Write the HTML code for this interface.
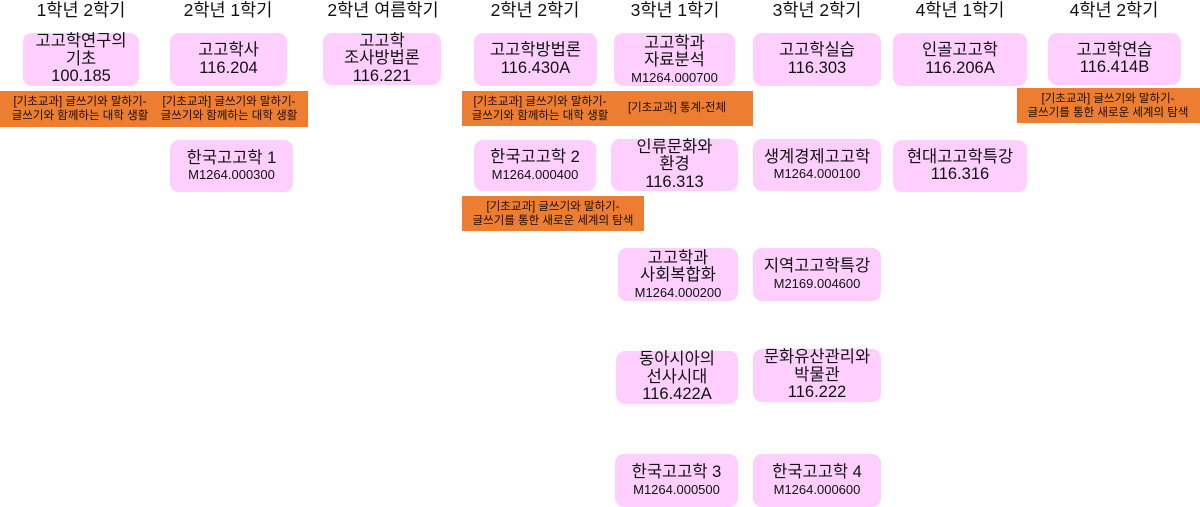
<!DOCTYPE html>
<html><head><meta charset="utf-8"><style>
body{margin:0;width:1200px;height:507px;background:#fff;position:relative;overflow:hidden;font-family:"Liberation Sans","Noto Sans CJK KR",sans-serif;color:#111}
.h{position:absolute;top:-1px;font-size:17.5px;text-align:center;line-height:22px;white-space:nowrap}
.b{position:absolute;background:#ffd0ff;border-radius:9px;display:flex;flex-direction:column;justify-content:center;align-items:center;text-align:center;font-size:16.5px;line-height:17.5px}
.b .s{font-size:13px;line-height:15px}
.o{position:absolute;background:#ed7d31}
.t{position:absolute;font-size:11.5px;line-height:14px;text-align:center;white-space:nowrap;transform:translateX(-50%);color:#1a0d00}
</style></head><body>
<div class="h" style="left:81px;transform:translateX(-50%)">1학년 2학기</div>
<div class="h" style="left:228px;transform:translateX(-50%)">2학년 1학기</div>
<div class="h" style="left:383px;transform:translateX(-50%)">2학년 여름학기</div>
<div class="h" style="left:535px;transform:translateX(-50%)">2학년 2학기</div>
<div class="h" style="left:675px;transform:translateX(-50%)">3학년 1학기</div>
<div class="h" style="left:817px;transform:translateX(-50%)">3학년 2학기</div>
<div class="h" style="left:960px;transform:translateX(-50%)">4학년 1학기</div>
<div class="h" style="left:1114px;transform:translateX(-50%)">4학년 2학기</div>

<div class="b" style="left:23px;top:33px;width:116px;height:53px">고고학연구의<br>기초<br>100.185</div>
<div class="b" style="left:170px;top:33px;width:117px;height:53px">고고학사<br>116.204</div>
<div class="b" style="left:323px;top:33px;width:118px;height:52px">고고학<br>조사방법론<br>116.221</div>
<div class="b" style="left:474px;top:33px;width:123px;height:53px">고고학방법론<br>116.430A</div>
<div class="b" style="left:614px;top:33px;width:121px;height:53px">고고학과<br>자료분석<br><span class="s">M1264.000700</span></div>
<div class="b" style="left:753px;top:33px;width:128px;height:53px">고고학실습<br>116.303</div>
<div class="b" style="left:893px;top:33px;width:134px;height:53px">인골고고학<br>116.206A</div>
<div class="b" style="left:1048px;top:33px;width:133px;height:52px">고고학연습<br>116.414B</div>

<div class="o" style="left:0;top:91px;width:308px;height:36px"></div>
<div class="t" style="left:80px;top:95px">[기초교과] 글쓰기와 말하기-<br>글쓰기와 함께하는 대학 생활</div>
<div class="t" style="left:229px;top:95px">[기초교과] 글쓰기와 말하기-<br>글쓰기와 함께하는 대학 생활</div>
<div class="o" style="left:462px;top:91px;width:291px;height:35px"></div>
<div class="t" style="left:540px;top:95px">[기초교과] 글쓰기와 말하기-<br>글쓰기와 함께하는 대학 생활</div>
<div class="t" style="left:677px;top:101px">[기초교과] 통계-전체</div>
<div class="o" style="left:462px;top:196px;width:182px;height:35px"></div>
<div class="t" style="left:553px;top:200px">[기초교과] 글쓰기와 말하기-<br>글쓰기를 통한 새로운 세계의 탐색</div>
<div class="o" style="left:1017px;top:88px;width:183px;height:35px"></div>
<div class="t" style="left:1108px;top:92px">[기초교과] 글쓰기와 말하기-<br>글쓰기를 통한 새로운 세계의 탐색</div>

<div class="b" style="left:170px;top:140px;width:123px;height:52px">한국고고학 1<br><span class="s">M1264.000300</span></div>
<div class="b" style="left:474px;top:140px;width:122px;height:51px">한국고고학 2<br><span class="s">M1264.000400</span></div>
<div class="b" style="left:611px;top:139px;width:127px;height:52px">인류문화와<br>환경<br>116.313</div>
<div class="b" style="left:753px;top:139px;width:128px;height:52px">생계경제고고학<br><span class="s">M1264.000100</span></div>
<div class="b" style="left:893px;top:140px;width:134px;height:52px">현대고고학특강<br>116.316</div>

<div class="b" style="left:618px;top:248px;width:120px;height:53px">고고학과<br>사회복합화<br><span class="s">M1264.000200</span></div>
<div class="b" style="left:753px;top:248px;width:128px;height:53px">지역고고학특강<br><span class="s">M2169.004600</span></div>
<div class="b" style="left:616px;top:351px;width:122px;height:53px">동아시아의<br>선사시대<br>116.422A</div>
<div class="b" style="left:753px;top:349px;width:128px;height:53px">문화유산관리와<br>박물관<br>116.222</div>
<div class="b" style="left:615px;top:454px;width:123px;height:53px">한국고고학 3<br><span class="s">M1264.000500</span></div>
<div class="b" style="left:753px;top:454px;width:128px;height:53px">한국고고학 4<br><span class="s">M1264.000600</span></div>
</body></html>
